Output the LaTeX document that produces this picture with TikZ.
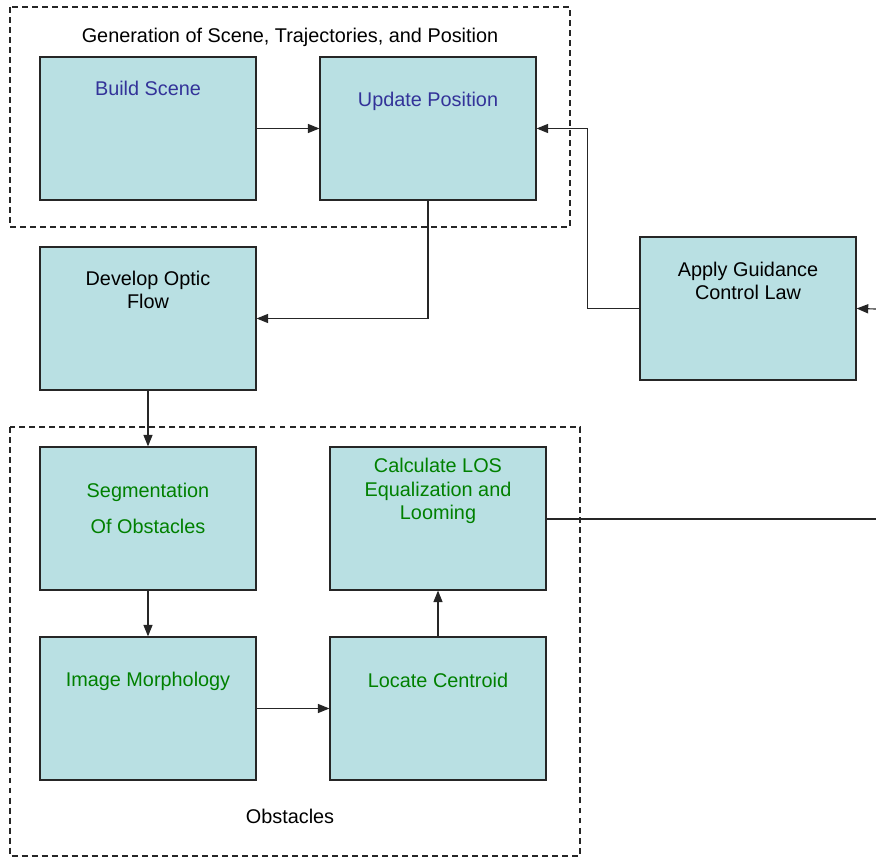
\documentclass[tikz,border=0pt]{standalone}
\usepackage{fontspec}
\setmainfont{Liberation Sans}
\usepackage{tikz}
\usetikzlibrary{arrows.meta,positioning}

\definecolor{boxfill}{RGB}{185,224,227}
\definecolor{txtblue}{RGB}{51,51,153}
\definecolor{txtgreen}{RGB}{0,128,0}

\tikzset{
    blk/.style={draw=black!85, fill=boxfill, line width=0.7pt, minimum width=4.32cm, minimum height=2.86cm, inner sep=0pt},
    grp/.style={draw=black!85, dash pattern=on 3.4pt off 2.3pt, line width=0.6pt},
    lbl/.style={inner sep=0pt, align=center, font=\fontsize{11.3}{13}\selectfont},
    conn/.style={draw=black!85, line width=0.65pt}
}

\begin{document}
\begin{tikzpicture}[x=0.02cm, y=-0.02cm, >={Triangle[length=6.6pt,width=5.2pt]}]
    \useasboundingbox (0,0) rectangle (876,857);
    % Dashed groups
    \draw[grp] (10,7) rectangle (570,227);
    \draw[grp] (10,427) rectangle (580,856);
    \node (gtitle) at (290,37.5) [lbl] {Generation of Scene, Trajectories, and Position};
    \node (otitle) at (290,816) [lbl] {Obstacles};

    % Blocks
    \node (build) at (148,128.5) [blk] {};
    \node (update) at (428,128.5) [blk] {};
    \node (optic) at (148,318.5) [blk] {};
    \node (guide) at (748,308.5) [blk] {};
    \node (segm) at (148,518.5) [blk] {};
    \node (los) at (438,518.5) [blk] {};
    \node (morph) at (148,708.5) [blk] {};
    \node (cent) at (438,708.5) [blk] {};

    % Block texts
    \node (buildT) at (148,88) [lbl, text=txtblue] {Build Scene};
    \node (updateT) at (428,101.5) [lbl, text=txtblue] {Update Position};
    \node (opticT) at (148,290) [lbl] {Develop Optic\\Flow};
    \node (guideT) at (748,280.5) [lbl] {Apply Guidance\\Control Law};
    \node (segmT) at (148,508) [lbl, text=txtgreen, font=\fontsize{11.3}{20.4}\selectfont] {Segmentation\\Of Obstacles};
    \node (losT) at (438,491) [lbl, text=txtgreen, font=\fontsize{11.3}{13.3}\selectfont] {Calculate LOS\\Equalization and\\Looming};
    \node (morphT) at (148,681.5) [lbl, text=txtgreen] {Image Morphology};
    \node (centT) at (438,680) [lbl, text=txtgreen] {Locate Centroid};

    % Outer ends
    \coordinate (losout) at (876,519);
    \coordinate (guidein) at (876,309);

    % Connectors
    \draw[conn, ->] (build.east) -- (update.west);
    \draw[conn, ->] (update.south) |- (optic.east);
    \draw[conn, ->] (guide.west) -- ++(-52,0) |- (update.east);
    \draw[conn, ->] (guidein) -- (guide.east);
    \draw[conn] (los.east |- losout) -- (losout);
    \draw[conn, ->] (optic.south) -- (segm.north);
    \draw[conn, ->] (segm.south) -- (morph.north);
    \draw[conn, ->] (morph.east) -- (cent.west);
    \draw[conn, ->] (cent.north) -- (los.south);
\end{tikzpicture}
\end{document}
